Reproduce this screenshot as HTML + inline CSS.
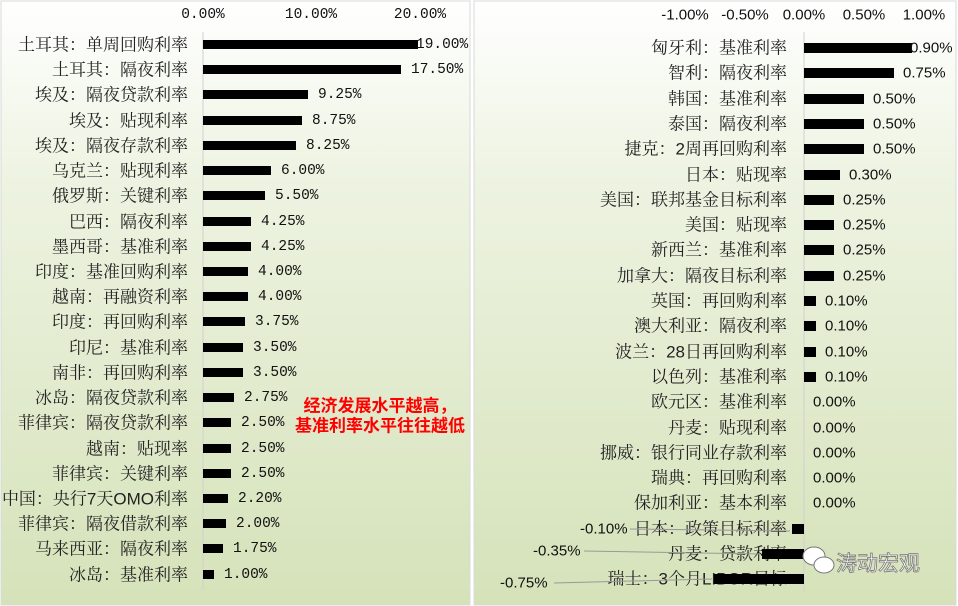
<!DOCTYPE html>
<html><head><meta charset="utf-8"><style>
body{margin:0;width:958px;height:606px;overflow:hidden}
svg{display:block}
text{font-family:"Liberation Sans","Noto Sans CJK SC",sans-serif;font-size:15px;fill:#111;dominant-baseline:central}
.c{font-family:"Liberation Sans","Noto Serif CJK SC",serif;font-size:17px;fill:#222}
.m{font-family:"Liberation Mono","Noto Sans CJK SC",monospace;font-size:14.5px}
</style></head><body>
<svg width="958" height="606" viewBox="0 0 958 606">
<defs><linearGradient id="g" x1="0" y1="0" x2="0" y2="1"><stop offset="0" stop-color="#ffffff"/><stop offset="0.3" stop-color="#edf3e1"/><stop offset="1" stop-color="#d5e2b9"/></linearGradient></defs>
<rect x="0" y="0" width="958" height="606" fill="#fff"/>
<rect x="1" y="1" width="469" height="604" fill="url(#g)" stroke="#d9d9d9"/>
<rect x="474" y="1" width="482" height="604" fill="url(#g)" stroke="#d9d9d9"/>
<line x1="203" y1="32" x2="203" y2="590" stroke="#d0d0d0"/>
<line x1="804" y1="32" x2="804" y2="592" stroke="#d0d0d0"/>
<text class="m" x="203" y="15" text-anchor="middle">0.00%</text>
<text class="m" x="311" y="15" text-anchor="middle">10.00%</text>
<text class="m" x="420" y="15" text-anchor="middle">20.00%</text>
<g>
<text class="c" x="188" y="45" text-anchor="end">土耳其：单周回购利率</text>
<text class="c" x="188" y="70" text-anchor="end">土耳其：隔夜利率</text>
<text class="c" x="188" y="95" text-anchor="end">埃及：隔夜贷款利率</text>
<text class="c" x="188" y="121" text-anchor="end">埃及：贴现利率</text>
<text class="c" x="188" y="146" text-anchor="end">埃及：隔夜存款利率</text>
<text class="c" x="188" y="171" text-anchor="end">乌克兰：贴现利率</text>
<text class="c" x="188" y="196" text-anchor="end">俄罗斯：关键利率</text>
<text class="c" x="188" y="222" text-anchor="end">巴西：隔夜利率</text>
<text class="c" x="188" y="247" text-anchor="end">墨西哥：基准利率</text>
<text class="c" x="188" y="272" text-anchor="end">印度：基准回购利率</text>
<text class="c" x="188" y="297" text-anchor="end">越南：再融资利率</text>
<text class="c" x="188" y="322" text-anchor="end">印度：再回购利率</text>
<text class="c" x="188" y="348" text-anchor="end">印尼：基准利率</text>
<text class="c" x="188" y="373" text-anchor="end">南非：再回购利率</text>
<text class="c" x="188" y="398" text-anchor="end">冰岛：隔夜贷款利率</text>
<text class="c" x="188" y="423" text-anchor="end">菲律宾：隔夜贷款利率</text>
<text class="c" x="188" y="449" text-anchor="end">越南：贴现率</text>
<text class="c" x="188" y="474" text-anchor="end">菲律宾：关键利率</text>
<text class="c" x="188" y="499" text-anchor="end">中国：央行7天OMO利率</text>
<text class="c" x="188" y="524" text-anchor="end">菲律宾：隔夜借款利率</text>
<text class="c" x="188" y="549" text-anchor="end">马来西亚：隔夜利率</text>
<text class="c" x="188" y="575" text-anchor="end">冰岛：基准利率</text>
</g>
<g fill="#000">
<rect x="203" y="40" width="215" height="9"/>
<rect x="203" y="65" width="198" height="9"/>
<rect x="203" y="90" width="105" height="9"/>
<rect x="203" y="116" width="99" height="9"/>
<rect x="203" y="141" width="93" height="9"/>
<rect x="203" y="166" width="68" height="9"/>
<rect x="203" y="191" width="62" height="9"/>
<rect x="203" y="217" width="48" height="9"/>
<rect x="203" y="242" width="48" height="9"/>
<rect x="203" y="267" width="45" height="9"/>
<rect x="203" y="292" width="45" height="9"/>
<rect x="203" y="317" width="42" height="9"/>
<rect x="203" y="343" width="40" height="9"/>
<rect x="203" y="368" width="40" height="9"/>
<rect x="203" y="393" width="31" height="9"/>
<rect x="203" y="418" width="28" height="9"/>
<rect x="203" y="444" width="28" height="9"/>
<rect x="203" y="469" width="28" height="9"/>
<rect x="203" y="494" width="25" height="9"/>
<rect x="203" y="519" width="23" height="9"/>
<rect x="203" y="544" width="20" height="9"/>
<rect x="203" y="570" width="11" height="9"/>
</g>
<text class="m" x="416" y="45">19.00%</text>
<text class="m" x="411" y="70">17.50%</text>
<text class="m" x="318" y="95">9.25%</text>
<text class="m" x="312" y="121">8.75%</text>
<text class="m" x="306" y="146">8.25%</text>
<text class="m" x="281" y="171">6.00%</text>
<text class="m" x="275" y="196">5.50%</text>
<text class="m" x="261" y="222">4.25%</text>
<text class="m" x="261" y="247">4.25%</text>
<text class="m" x="258" y="272">4.00%</text>
<text class="m" x="258" y="297">4.00%</text>
<text class="m" x="255" y="322">3.75%</text>
<text class="m" x="253" y="348">3.50%</text>
<text class="m" x="253" y="373">3.50%</text>
<text class="m" x="244" y="398">2.75%</text>
<text class="m" x="241" y="423">2.50%</text>
<text class="m" x="241" y="449">2.50%</text>
<text class="m" x="241" y="474">2.50%</text>
<text class="m" x="238" y="499">2.20%</text>
<text class="m" x="236" y="524">2.00%</text>
<text class="m" x="233" y="549">1.75%</text>
<text class="m" x="224" y="575">1.00%</text>
<text x="380" y="406" text-anchor="middle" style="fill:#ff0000;font-weight:bold;font-size:17px">经济发展水平越高，</text>
<text x="380" y="426" text-anchor="middle" style="fill:#ff0000;font-weight:bold;font-size:17px">基准利率水平往往越低</text>

<text x="685" y="15" text-anchor="middle">-1.00%</text>
<text x="745" y="15" text-anchor="middle">-0.50%</text>
<text x="804" y="15" text-anchor="middle">0.00%</text>
<text x="864" y="15" text-anchor="middle">0.50%</text>
<text x="924" y="15" text-anchor="middle">1.00%</text>
<g>
<text class="c" x="787" y="48" text-anchor="end">匈牙利：基准利率</text>
<text class="c" x="787" y="73" text-anchor="end">智利：隔夜利率</text>
<text class="c" x="787" y="99" text-anchor="end">韩国：基准利率</text>
<text class="c" x="787" y="124" text-anchor="end">泰国：隔夜利率</text>
<text class="c" x="787" y="149" text-anchor="end">捷克：2周再回购利率</text>
<text class="c" x="787" y="175" text-anchor="end">日本：贴现率</text>
<text class="c" x="787" y="200" text-anchor="end">美国：联邦基金目标利率</text>
<text class="c" x="787" y="225" text-anchor="end">美国：贴现率</text>
<text class="c" x="787" y="250" text-anchor="end">新西兰：基准利率</text>
<text class="c" x="787" y="276" text-anchor="end">加拿大：隔夜目标利率</text>
<text class="c" x="787" y="301" text-anchor="end">英国：再回购利率</text>
<text class="c" x="787" y="326" text-anchor="end">澳大利亚：隔夜利率</text>
<text class="c" x="787" y="352" text-anchor="end">波兰：28日再回购利率</text>
<text class="c" x="787" y="377" text-anchor="end">以色列：基准利率</text>
<text class="c" x="787" y="402" text-anchor="end">欧元区：基准利率</text>
<text class="c" x="787" y="428" text-anchor="end">丹麦：贴现利率</text>
<text class="c" x="787" y="453" text-anchor="end">挪威：银行同业存款利率</text>
<text class="c" x="787" y="478" text-anchor="end">瑞典：再回购利率</text>
<text class="c" x="787" y="503" text-anchor="end">保加利亚：基本利率</text>
<text class="c" x="787" y="529" text-anchor="end">日本：政策目标利率</text>
<text class="c" x="787" y="554" text-anchor="end">丹麦：贷款利率</text>
<text class="c" x="787" y="579" text-anchor="end">瑞士：3个月LIBOR目标</text>
</g>
<g fill="#000">
<rect x="804" y="43" width="108" height="10"/>
<rect x="804" y="68" width="90" height="10"/>
<rect x="804" y="94" width="60" height="10"/>
<rect x="804" y="119" width="60" height="10"/>
<rect x="804" y="144" width="60" height="10"/>
<rect x="804" y="170" width="36" height="10"/>
<rect x="804" y="195" width="30" height="10"/>
<rect x="804" y="220" width="30" height="10"/>
<rect x="804" y="245" width="30" height="10"/>
<rect x="804" y="271" width="30" height="10"/>
<rect x="804" y="296" width="12" height="10"/>
<rect x="804" y="321" width="12" height="10"/>
<rect x="804" y="347" width="12" height="10"/>
<rect x="804" y="372" width="12" height="10"/>
<rect x="792" y="524" width="12" height="10"/>
<rect x="762" y="549" width="42" height="10"/>
<rect x="714" y="574" width="90" height="10"/>
</g>
<text x="910" y="48">0.90%</text>
<text x="903" y="73">0.75%</text>
<text x="873" y="99">0.50%</text>
<text x="873" y="124">0.50%</text>
<text x="873" y="149">0.50%</text>
<text x="849" y="175">0.30%</text>
<text x="843" y="200">0.25%</text>
<text x="843" y="225">0.25%</text>
<text x="843" y="250">0.25%</text>
<text x="843" y="276">0.25%</text>
<text x="825" y="301">0.10%</text>
<text x="825" y="326">0.10%</text>
<text x="825" y="352">0.10%</text>
<text x="825" y="377">0.10%</text>
<text x="813" y="402">0.00%</text>
<text x="813" y="428">0.00%</text>
<text x="813" y="453">0.00%</text>
<text x="813" y="478">0.00%</text>
<text x="813" y="503">0.00%</text>
<line x1="630" y1="529" x2="790" y2="531" stroke="#999"/>
<line x1="584" y1="551" x2="760" y2="554" stroke="#999"/>
<line x1="554" y1="583" x2="712" y2="579" stroke="#999"/>
<text x="580" y="529">-0.10%</text>
<text x="533" y="551">-0.35%</text>
<text x="500" y="583">-0.75%</text>
<g transform="translate(800,558)">
<ellipse cx="14" cy="-2" rx="11" ry="9" fill="#fff" stroke="#777"/>
<ellipse cx="24" cy="7" rx="10" ry="8" fill="#fff" stroke="#777"/>
</g>
<text x="836" y="564" style="fill:#fff;font-size:21px;stroke:#777;stroke-width:0.8">涛动宏观</text>
</svg>
</body></html>
